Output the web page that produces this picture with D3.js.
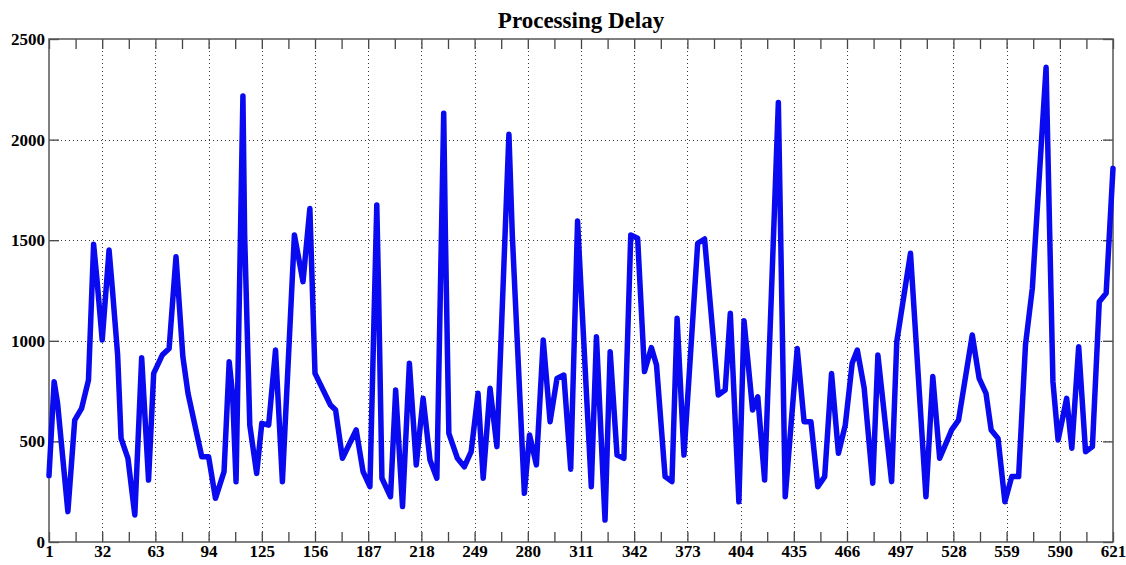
<!DOCTYPE html>
<html>
<head>
<meta charset="utf-8">
<script src="https://d3js.org/d3.v7.min.js"></script>
<style>
    body { margin: 0; background: #fff; }
    svg { display: block; }
</style>
</head>
<body>
<div class="drawingArea"></div>
<script>
// sample index and delay value
var sampleIndex = [1, 4, 6, 12, 16, 20, 24, 27, 29, 32, 36, 38, 41, 43, 47, 51, 55, 59, 62, 67,
    71, 75, 79, 82, 90, 94, 98, 103, 106, 108, 110, 114, 115, 118, 122, 125, 129, 133, 137, 144,
    149, 153, 156, 165, 168, 172, 180, 184, 188, 192, 193, 195, 200, 203, 207, 211, 215, 219, 223, 227,
    231, 232, 234, 239, 243, 247, 251, 254, 258, 262, 269, 271, 278, 281, 285, 289, 293, 297, 301, 305,
    309, 311, 317, 320, 325, 328, 332, 336, 340, 344, 348, 352, 355, 360, 364, 367, 371, 379, 383, 391,
    395, 398, 403, 406, 411, 414, 418, 426, 430, 437, 441, 445, 449, 453, 457, 461, 465, 469, 472, 476,
    481, 484, 492, 495, 503, 512, 516, 520, 527, 531, 539, 543, 547, 550, 554, 558, 562, 566, 570, 574,
    582, 586, 589, 594, 597, 601, 605, 609, 613, 617, 621];
var delay = [330, 797, 690, 151, 606, 664, 805, 1480, 1300, 1004, 1451, 1250, 929, 515, 416, 134, 916, 308, 838, 929,
    962, 1418, 921, 739, 424, 424, 217, 350, 896, 730, 300, 2217, 1526, 581, 341, 590, 581, 954, 300, 1526,
    1294, 1658, 838, 681, 656, 416, 557, 350, 275, 1675, 1270, 317, 225, 755, 176, 888, 383, 714, 408, 317,
    2131, 1520, 540, 416, 374, 449, 739, 317, 764, 474, 2026, 1520, 242, 532, 383, 1004, 598, 813, 830, 362,
    1595, 1260, 275, 1020, 109, 946, 432, 416, 1526, 1510, 847, 966, 880, 325, 300, 1112, 432, 1485, 1506, 731,
    755, 1137, 200, 1100, 656, 722, 308, 2184, 225, 962, 598, 598, 275, 325, 838, 441, 581, 888, 954, 765,
    292, 929, 300, 996, 1435, 225, 822, 416, 557, 606, 1029, 813, 739, 557, 515, 200, 325, 325, 979, 1261,
    2359, 797, 507, 714, 466, 971, 449, 474, 1194, 1236, 1857];

// axis ticks
var xTicks = [1, 32, 63, 94, 125, 156, 187, 218, 249, 280, 311, 342, 373, 404, 435, 466, 497, 528, 559, 590, 621];
var xMinorTicks = [16.5, 47.5, 78.5, 109.5, 140.5, 171.5, 202.5, 233.5, 264.5, 295.5, 326.5, 357.5, 388.5, 419.5,
    450.5, 481.5, 512.5, 543.5, 574.5, 605.5];
var yTicks = [0, 500, 1000, 1500, 2000, 2500];

var width = 1126;
var height = 565;
//plot box (don't call it "top", that's window.top)
var plotLeft = 49, plotRight = 1113, plotTop = 39, plotBottom = 542;
var tickLen = 10;

var svg = d3.select(".drawingArea").append("svg:svg")
    .attr("width", width)
    .attr("height", height);

var x = d3.scaleLinear().domain([1, 621]).range([plotLeft, plotRight]);
var y = d3.scaleLinear().domain([0, 2500]).range([plotBottom, plotTop]);

//grid
var grid = svg.append("g")
    .attr("stroke", "#3a3a3a")
    .attr("stroke-width", 1)
    .attr("stroke-dasharray", "1,3");

grid.selectAll("line.vgrid")
    .data(xTicks.slice(1, -1))
    .enter().append("line")
    .attr("class", "vgrid")
    .attr("x1", function(d) { return Math.round(x(d)) + 0.5; })
    .attr("x2", function(d) { return Math.round(x(d)) + 0.5; })
    .attr("y1", plotTop)
    .attr("y2", plotBottom);

grid.selectAll("line.hgrid")
    .data(yTicks.slice(1, -1))
    .enter().append("line")
    .attr("class", "hgrid")
    .attr("x1", plotLeft)
    .attr("x2", plotRight)
    .attr("y1", function(d) { return Math.round(y(d)) + 0.5; })
    .attr("y2", function(d) { return Math.round(y(d)) + 0.5; });

//axes, ticks pointing inwards
var xBottom = d3.axisBottom(x).tickValues(xTicks).tickSizeInner(-tickLen).tickSizeOuter(0).tickPadding(3);
var xTop = d3.axisTop(x).tickValues(xTicks).tickSizeInner(-tickLen).tickSizeOuter(0).tickFormat("");
var yLeft = d3.axisLeft(y).tickValues(yTicks).tickSizeInner(-tickLen).tickSizeOuter(0).tickPadding(4)
    .tickFormat(d3.format("d"));
var yRight = d3.axisRight(y).tickValues(yTicks).tickSizeInner(-tickLen).tickSizeOuter(0).tickFormat("");

function styleAxis(g) {
    g.select(".domain").remove();
    g.selectAll(".tick line").attr("stroke", "#444").attr("stroke-width", 1.3);
    g.selectAll(".tick text")
        .attr("fill", "#000")
        .style("font-family", "'Liberation Serif', 'Times New Roman', serif")
        .style("font-weight", "bold")
        .style("font-size", "17px");
}

svg.append("g").attr("transform", "translate(0," + plotBottom + ")").call(xBottom).call(styleAxis);
svg.append("g").attr("transform", "translate(0," + plotTop + ")").call(xTop).call(styleAxis);
svg.append("g").attr("transform", "translate(" + plotLeft + ",0)").call(yLeft).call(styleAxis);
svg.append("g").attr("transform", "translate(" + plotRight + ",0)").call(yRight).call(styleAxis);

svg.append("g").attr("transform", "translate(0," + plotBottom + ")")
    .call(d3.axisBottom(x).tickValues(xMinorTicks).tickSizeInner(-tickLen).tickSizeOuter(0).tickFormat(""))
    .call(styleAxis);
svg.append("g").attr("transform", "translate(0," + plotTop + ")")
    .call(d3.axisTop(x).tickValues(xMinorTicks).tickSizeInner(-tickLen).tickSizeOuter(0).tickFormat(""))
    .call(styleAxis);

//box
svg.append("rect")
    .attr("x", plotLeft)
    .attr("y", plotTop)
    .attr("width", plotRight - plotLeft)
    .attr("height", plotBottom - plotTop)
    .attr("fill", "none")
    .attr("stroke", "#555")
    .attr("stroke-width", 1.5);

//data line
var points = sampleIndex.map(function(d, i) { return [d, delay[i]]; });
var line = d3.line()
    .x(function(d) { return x(d[0]); })
    .y(function(d) { return y(d[1]); });

svg.append("path")
    .datum(points)
    .attr("d", line)
    .attr("fill", "none")
    .attr("stroke", "#0a0af0")
    .attr("stroke-width", 5.5)
    .attr("stroke-linejoin", "round")
    .attr("stroke-linecap", "round");

//title
svg.append("text")
    .attr("x", (plotLeft + plotRight) / 2)
    .attr("y", 28)
    .attr("text-anchor", "middle")
    .style("font-family", "'Liberation Serif', 'Times New Roman', serif")
    .style("font-weight", "bold")
    .style("font-size", "23px")
    .text("Processing Delay");
</script>
</body>
</html>
